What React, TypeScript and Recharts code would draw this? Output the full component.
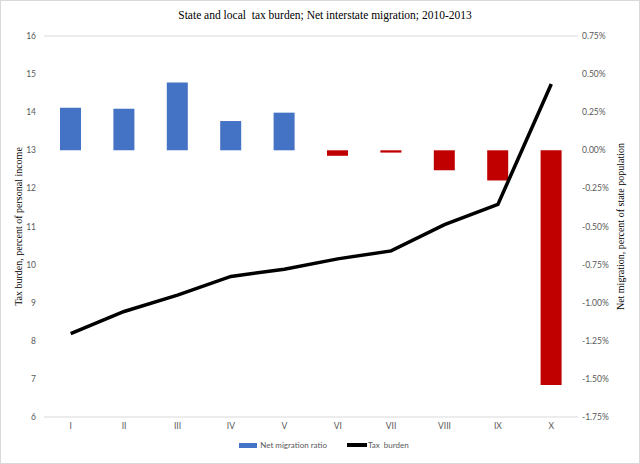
import React from 'react';
import {
  ComposedChart,
  Bar,
  Line,
  Cell,
  XAxis,
  YAxis,
  CartesianGrid,
  Legend,
} from 'recharts';

const CATEGORIES = ['I', 'II', 'III', 'IV', 'V', 'VI', 'VII', 'VIII', 'IX', 'X'];
// net migration, percent of state population
const MIGRATION = [0.28, 0.272, 0.445, 0.192, 0.247, -0.036, -0.015, -0.131, -0.198, -1.54];
// tax burden, percent of personal income
const TAX_BURDEN = [8.19, 8.77, 9.2, 9.69, 9.88, 10.15, 10.36, 11.05, 11.58, 14.74];

const LEFT_TICKS = [6, 7, 8, 9, 10, 11, 12, 13, 14, 15, 16];
const RIGHT_TICKS = [-1.75, -1.5, -1.25, -1.0, -0.75, -0.5, -0.25, 0, 0.25, 0.5, 0.75];

const data = CATEGORIES.map((name, i) => ({
  name,
  migration: MIGRATION[i],
  tax: TAX_BURDEN[i],
}));

const BLUE = '#4472C4';
const RED = '#C00000';
const TICK = { fill: '#595959', fontSize: 8.5, fontFamily: 'Lato' };
const SERIF = '"Liberation Serif", serif';

const LegendContent = () => (
  <div
    style={{
      display: 'flex',
      justifyContent: 'center',
      alignItems: 'center',
      fontFamily: 'Lato',
      fontSize: 8,
      color: '#595959',
      paddingTop: 3,
      paddingLeft: 8,
    }}
  >
    <span style={{ display: 'inline-block', width: 18, height: 5, background: BLUE, marginRight: 3 }} />
    <span style={{ marginRight: 20 }}>Net migration ratio</span>
    <span style={{ display: 'inline-block', width: 20, height: 4, background: '#000', marginRight: 1 }} />
    <span>Tax&nbsp; burden</span>
  </div>
);

export default function App() {
  return (
    <div
      style={{
        position: 'relative',
        width: 640,
        height: 464,
        boxSizing: 'border-box',
        border: '1px solid #d9d9d9',
        background: '#fff',
      }}
    >
      <style>{'body{margin:0}'}</style>
      <div
        style={{
          position: 'absolute',
          top: 8,
          left: 4,
          width: 640,
          textAlign: 'center',
          fontFamily: SERIF,
          fontSize: 11.5,
          color: '#000',
          whiteSpace: 'pre',
        }}
      >
        {'State and local  tax burden; Net interstate migration; 2010-2013'}
      </div>
      <div style={{ position: 'absolute', left: -1, top: -1 }}>
        <ComposedChart
          width={640}
          height={464}
          data={data}
          margin={{ top: 36, right: 0, left: 0, bottom: 3 }}
          barSize={21}
        >
          <CartesianGrid vertical={false} stroke="#d9d9d9" />
          <XAxis
            dataKey="name"
            axisLine={false}
            tickLine={false}
            tickSize={4}
            height={20}
            tick={TICK}
            interval={0}
          />
          <YAxis
            yAxisId="left"
            orientation="left"
            domain={[6, 16]}
            ticks={LEFT_TICKS}
            width={44}
            axisLine={false}
            tickLine={false}
            tickSize={0}
            tickMargin={8}
            tick={TICK}
            label={{
              value: 'Tax burden, percent of personal income',
              angle: -90,
              position: 'insideLeft',
              offset: 18,
              style: { textAnchor: 'middle', fontFamily: SERIF, fontSize: 10, fill: '#000' },
            }}
          />
          <YAxis
            yAxisId="right"
            orientation="right"
            domain={[-1.75, 0.75]}
            ticks={RIGHT_TICKS}
            width={62}
            axisLine={false}
            tickLine={false}
            tickSize={0}
            tickMargin={4}
            tick={TICK}
            tickFormatter={(v: number) => `${v.toFixed(2)}%`}
            label={{
              value: 'Net migration, percent of state population',
              angle: -90,
              position: 'insideRight',
              offset: 20,
              style: { textAnchor: 'middle', fontFamily: SERIF, fontSize: 10, fill: '#000' },
            }}
          />
          <Bar yAxisId="right" dataKey="migration" name="Net migration ratio" isAnimationActive={false}>
            {data.map((d, i) => (
              <Cell key={`c-${i}`} fill={d.migration >= 0 ? BLUE : RED} />
            ))}
          </Bar>
          <Line
            yAxisId="left"
            dataKey="tax"
            name="Tax burden"
            stroke="#000"
            strokeWidth={3.5}
            dot={false}
            type="linear"
            isAnimationActive={false}
          />
          <Legend verticalAlign="bottom" height={24} content={<LegendContent />} />
        </ComposedChart>
      </div>
    </div>
  );
}
